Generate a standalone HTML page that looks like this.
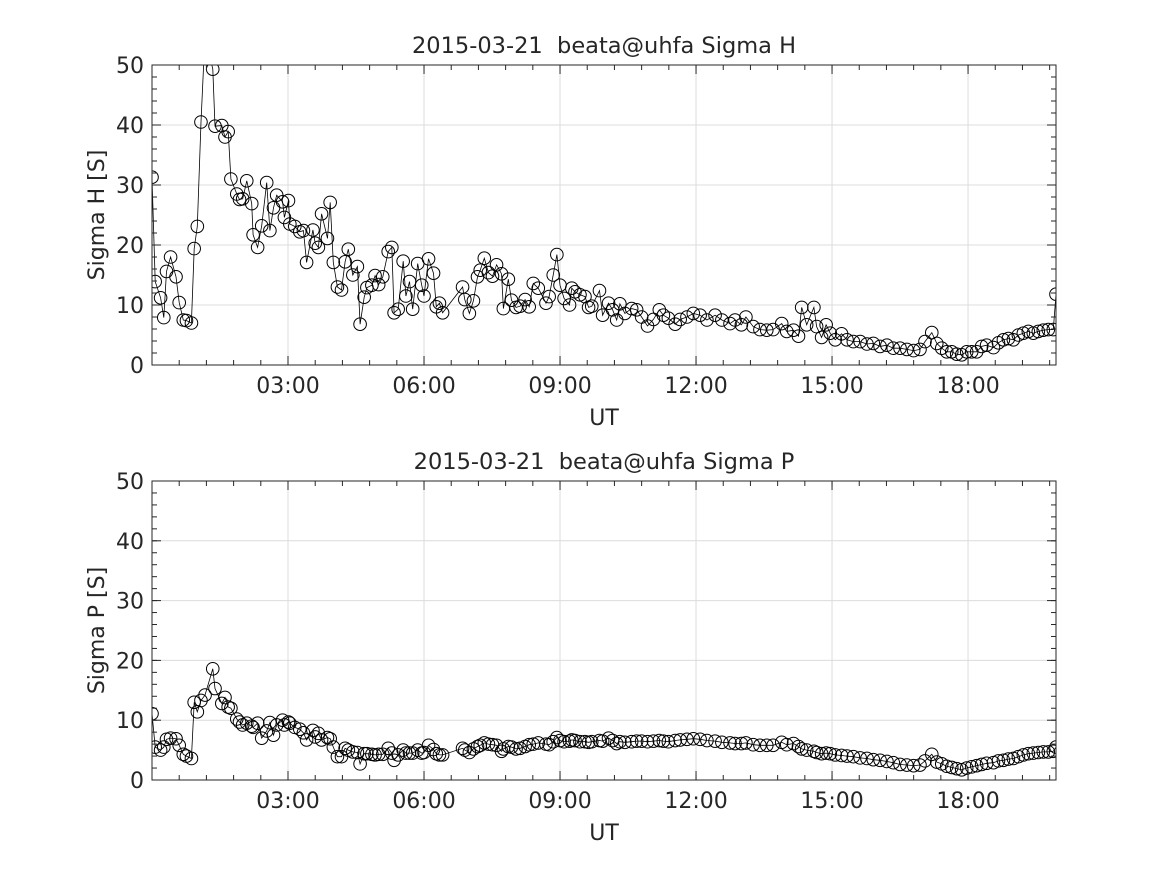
<!DOCTYPE html>
<html><head><meta charset="utf-8"><style>
body{margin:0;background:#fff;}
svg text{font-family:"DejaVu Sans","Liberation Sans",sans-serif;fill:#262626;}
</style></head><body>
<svg id="fig" width="1167" height="875" xmlns="http://www.w3.org/2000/svg"></svg>
<script>
// time in hours UT
const times = [
0,0.07,0.19,0.26,0.32,0.41,0.53,0.6,0.69,0.76,0.87,0.93,1.0,1.08,1.17,1.34,1.39,1.54,1.61,1.68,
1.74,1.87,1.93,2.0,2.09,2.2,2.23,2.33,2.42,2.53,2.6,2.68,2.75,2.88,2.92,3.01,3.04,3.15,3.26,3.34,
3.41,3.55,3.6,3.67,3.74,3.87,3.93,4.0,4.09,4.18,4.26,4.33,4.43,4.53,4.59,4.68,4.74,4.85,4.92,5.0,
5.09,5.21,5.29,5.34,5.43,5.54,5.6,5.68,5.75,5.86,5.95,6.0,6.1,6.21,6.27,6.34,6.41,
6.85,6.9,7.0,7.09,7.18,7.24,7.33,7.42,7.51,7.6,7.71,7.75,7.86,7.93,8.03,8.12,8.23,8.32,8.41,8.52,
8.69,8.76,8.85,8.93,9.0,9.09,9.21,9.26,9.33,9.44,9.55,9.63,9.7,9.87,9.94,10.07,10.16,10.25,10.32,10.43,
10.58,10.69,10.8,10.93,11.06,11.19,11.28,11.39,11.54,11.65,11.8,11.94,12.09,12.24,12.42,12.57,12.75,12.86,13.0,13.1,
13.26,
13.41,13.56,13.7,13.89,14.0,14.15,14.26,14.33,14.44,14.6,14.66,14.77,14.87,14.96,15.07,15.21,15.33,15.47,15.62,15.77,
15.91,16.06,16.21,16.35,16.5,16.65,16.8,16.94,17.05,17.2,17.31,17.42,17.53,17.64,17.75,17.86,17.97,18.08,18.19,18.3,
18.41,18.56,18.67,18.78,18.89,19.0,19.11,19.22,19.33,19.44,19.55,19.66,19.77,19.88,19.94];
const sigmaH = [
31.3,13.9,11.2,7.9,15.6,18,14.7,10.4,7.5,7.4,7,19.4,23.1,40.5,55,49.3,39.8,39.9,38,38.9,
31,28.5,27.6,27.7,30.7,26.9,21.7,19.6,23.2,30.4,22.4,26.2,28.3,27.2,24.6,27.4,23.5,23.1,22.2,22.4,
17.1,22.5,20.3,19.6,25.2,21.1,27.1,17.1,13,12.5,17.2,19.3,15,16.4,6.8,11.3,12.9,13.3,14.9,13.4,
14.7,18.9,19.6,8.7,9.3,17.3,11.5,13.9,9.3,16.9,13.3,11.5,17.7,15.3,9.7,10.3,8.7,
13,10.9,8.6,10.7,14.7,15.8,17.8,15.4,14.8,16.7,15.2,9.4,14.3,10.8,9.6,9.8,10.9,9.7,13.6,12.8,
10.3,11.4,15,18.4,13.3,11.1,10,12.8,12.2,11.7,11.4,9.6,9.8,12.4,8.3,10.3,9.2,7.5,10.2,8.6,
9.4,9.2,8,6.5,7.6,9.2,8.3,7.8,6.8,7.6,8,8.6,8.3,7.5,8.3,7.5,6.9,7.5,6.7,8,
6.4,
5.9,5.8,5.9,6.9,5.6,5.8,4.8,9.6,6.7,9.6,6.4,4.6,6.7,5.3,4.2,5.2,4.2,3.9,3.9,3.5,
3.6,3.1,3.3,2.8,2.8,2.6,2.4,2.6,3.9,5.4,3.6,2.8,2.2,2.2,1.8,1.7,2.2,2.2,2.2,3.1,
3.3,2.9,3.7,4.2,4.4,4.2,5,5.3,5.6,5.3,5.6,5.8,5.9,5.9,11.8];
const sigmaP = [
11.1,5.5,5.0,5.5,6.8,7.0,6.9,5.8,4.3,4.0,3.6,13,11.4,13.3,14.2,18.6,15.3,12.8,13.8,12.2,
12,10.2,9.7,9.2,9.5,9,8.8,9.5,7,8.2,9.6,7.5,9.2,10,9.2,9.7,9.5,8.8,8.5,7.9,
6.7,8.3,7.2,7.8,6.7,7.1,6.9,5.5,3.9,3.9,5.3,5,4.7,4.6,2.7,4.4,4.4,4.3,4.2,4.3,
4.3,5.3,4.5,3.3,4.2,5,4.5,4.5,4.5,5,4.5,4.6,5.8,5.1,4.4,4.2,4.2,
5.3,5.0,4.6,5.2,5.6,5.8,6.2,6.0,5.9,5.8,4.8,5.2,5.6,5.5,5.2,5.3,5.6,5.9,6.0,6.2,
6.0,5.9,6.4,7.1,6.6,6.4,6.5,6.7,6.6,6.4,6.4,6.3,6.4,6.6,6.5,7.0,6.6,6.1,6.4,6.3,
6.4,6.5,6.5,6.4,6.5,6.6,6.5,6.4,6.6,6.7,6.8,6.9,6.8,6.6,6.5,6.3,6.2,6.1,6.1,6.2,
5.9,
5.8,5.8,5.8,6.3,5.9,6.1,5.6,5.2,5.0,4.8,4.6,4.4,4.5,4.4,4.2,4.1,4.0,3.9,3.7,3.6,
3.4,3.3,3.1,2.9,2.6,2.5,2.4,2.5,3.2,4.3,3.0,2.7,2.3,2.1,1.9,1.7,2.0,2.2,2.4,2.6,
2.8,2.9,3.2,3.3,3.5,3.6,3.9,4.2,4.4,4.5,4.6,4.7,4.7,4.8,5.5];
const xTickHours = [3,6,9,12,15,18];
const xTickLabels = ["03:00","06:00","09:00","12:00","15:00","18:00"];
const yTicks = [0,10,20,30,40,50];

const NS = "http://www.w3.org/2000/svg";
const svg = document.getElementById('fig');
function el(tag, attrs, parent){
  const e = document.createElementNS(NS, tag);
  for (const k in attrs) e.setAttribute(k, attrs[k]);
  (parent||svg).appendChild(e);
  return e;
}
const L = 152, R = 1056, X0 = 0, X1 = 19.94;
function xs(t){ return L + (t - X0) / (X1 - X0) * (R - L); }

function panel(top, bottom, values, title, ylabel, key){
  const ys = v => bottom - v / 50 * (bottom - top);
  const g = el('g', {});
  
  
  xTickHours.forEach(h => {
    const ln = el('line', {x1: xs(h), x2: xs(h), y1: top, y2: bottom, stroke: '#dcdcdc', 'stroke-width': 1}, g);
    
    
  });
  yTicks.forEach(v => {
    const ln = el('line', {x1: L, x2: R, y1: ys(v), y2: ys(v), stroke: '#dcdcdc', 'stroke-width': 1}, g);
    
    
  });
  const cp = el('clipPath', {id: 'clip-' + key}, g);
  el('rect', {x: L, y: top, width: R - L, height: bottom - top}, cp);
  const sg = el('g', {'clip-path': 'url(#clip-' + key + ')'}, g);
  
  
  const pts = times.map((t, i) => xs(t).toFixed(1) + ',' + ys(values[i]).toFixed(1)).join(' ');
  const pl = el('polyline', {points: pts, fill: 'none', stroke: '#000', 'stroke-width': 0.8}, sg);
  
  
  times.forEach((t, i) => {
    const c = el('circle', {cx: xs(t), cy: ys(values[i]), r: 6.3, fill: 'none', stroke: '#000', 'stroke-width': 1}, sg);
    
    
  });
  for (let h = 0; h <= X1 + 1e-6; h += 0.6) {
    const x = xs(h);
    el('line', {x1: x, x2: x, y1: bottom, y2: bottom - 5, stroke: '#262626', 'stroke-width': 1}, g);
    el('line', {x1: x, x2: x, y1: top, y2: top + 5, stroke: '#262626', 'stroke-width': 1}, g);
  }
  for (let v = 0; v <= 50; v += 2) {
    const y = ys(v);
    el('line', {x1: L, x2: L + 5, y1: y, y2: y, stroke: '#262626', 'stroke-width': 1}, g);
    el('line', {x1: R, x2: R - 5, y1: y, y2: y, stroke: '#262626', 'stroke-width': 1}, g);
  }
  xTickHours.forEach((h, i) => {
    const x = xs(h);
    el('line', {x1: x, x2: x, y1: bottom, y2: bottom - 9, stroke: '#262626', 'stroke-width': 1}, g);
    el('line', {x1: x, x2: x, y1: top, y2: top + 9, stroke: '#262626', 'stroke-width': 1}, g);
    const tx = el('text', {x: x, y: bottom + 28, 'text-anchor': 'middle', 'font-size': 22}, g);
    tx.textContent = xTickLabels[i];
    
    
  });
  yTicks.forEach(v => {
    const y = ys(v);
    el('line', {x1: L, x2: L + 9, y1: y, y2: y, stroke: '#262626', 'stroke-width': 1}, g);
    el('line', {x1: R, x2: R - 9, y1: y, y2: y, stroke: '#262626', 'stroke-width': 1}, g);
    const tx = el('text', {x: L - 8, y: y + 8, 'text-anchor': 'end', 'font-size': 22}, g);
    tx.textContent = v;
    
    
  });
  const box = el('rect', {x: L, y: top, width: R - L, height: bottom - top, fill: 'none', stroke: '#262626', 'stroke-width': 1}, g);
  
  
  const ti = el('text', {x: (L + R) / 2, y: top - 12, 'text-anchor': 'middle', 'font-size': 22.5, fill: '#111'}, g);
  ti.textContent = title;
  
  
  const xl = el('text', {x: (L + R) / 2, y: bottom + 60, 'text-anchor': 'middle', 'font-size': 22}, g);
  xl.textContent = 'UT';
  
  
  const cy = (top + bottom) / 2;
  const yl = el('text', {x: 104, y: cy, 'text-anchor': 'middle', 'font-size': 22, transform: 'rotate(-90 104 ' + cy + ')'}, g);
  yl.textContent = ylabel;
  
  
}
panel(65, 365, sigmaH, '2015-03-21\u00a0\u00a0beata@uhfa Sigma H', 'Sigma H [S]', 'sigma-h');
panel(481, 780, sigmaP, '2015-03-21\u00a0\u00a0beata@uhfa Sigma P', 'Sigma P [S]', 'sigma-p');
</script>
</body></html>
